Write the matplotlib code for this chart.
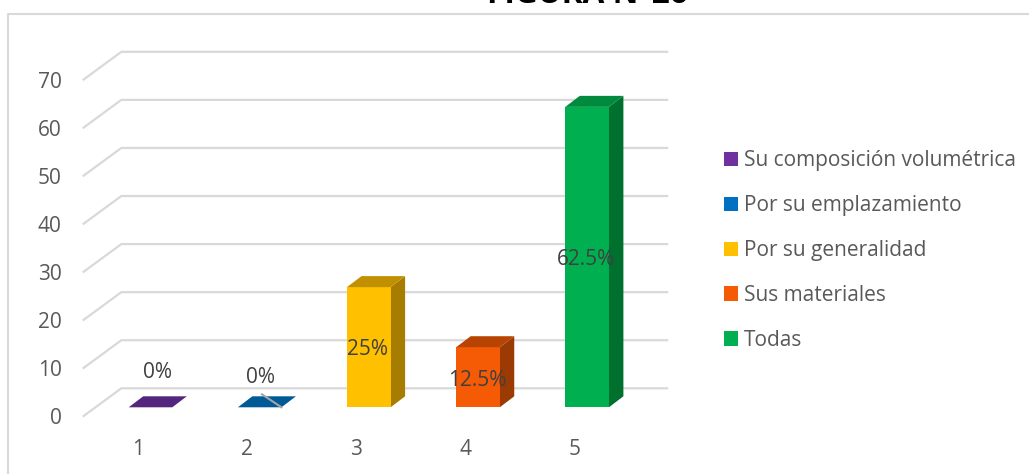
import matplotlib
matplotlib.use("Agg")
import matplotlib.pyplot as plt
from matplotlib.patches import Polygon, Rectangle

FONT = "Open Sans"
plt.rcParams["font.family"] = FONT

categories = [1, 2, 3, 4, 5]
values = [0, 0, 25, 12.5, 62.5]
value_labels = ["0%", "0%", "25%", "12.5%", "62.5%"]
series_names = ["Su composición volumétrica", "Por su emplazamiento",
                "Por su generalidad", "Sus materiales", "Todas"]
y_ticks = [0, 10, 20, 30, 40, 50, 60, 70]
title = "FIGURA N°26"

face_colors = ["#54267E", "#005A96", "#FFC000", "#F55A05", "#00B050"]
legend_colors = ["#7030A0", "#0070C0", "#FFC000", "#F55A05", "#00B050"]
top_colors = ["#54267E", "#005A96", "#C09000", "#B84403", "#008A3E"]
side_colors = ["#54267E", "#005A96", "#A67D00", "#9B3A02", "#00702F"]
label_offsets_px = [(7.5, 35), (1.2, 30), (-1, 57.5), (-0.5, 27), (-1, 148)]

W, H = 1029, 474
PX_CAT = 109.15     # pixels per category
PX_VAL = 4.807      # pixels per value unit
X0, Y0 = 150.5, 407.3  # pixel of category 1 / value 0

fig = plt.figure(figsize=(W / 100, H / 100), dpi=100)
ax = fig.add_axes([0, 0, 1, 1])
ax.set_xlim(1 - X0 / PX_CAT, 1 + (W - X0) / PX_CAT)
ax.set_ylim((Y0 - H) / PX_VAL, Y0 / PX_VAL)
ax.axis("off")

GRID = "#D9D9D9"
TEXT = "#595959"
dx, dy = 14.5 / PX_CAT, 11 / PX_VAL       # bar depth
bar_half = 21.8 / PX_CAT

# chart frame: only its top and left sides show in the crop
ax.plot([8 / W, 8 / W, 1], [0, 1 - 14 / H, 1 - 14 / H], transform=ax.transAxes,
        color=GRID, lw=1.5, zorder=0, clip_on=False)

# walls / gridlines
front_x, back_x, right_x = 0.387, 0.733, 5.733
front_off, back_off = -8.7 / PX_VAL, 19.0 / PX_VAL
for v in y_ticks:
    ax.plot([front_x, back_x, right_x], [v + front_off, v + back_off, v + back_off],
            color=GRID, lw=1.6, zorder=1, solid_joinstyle="miter")
    ax.annotate(str(v), (front_x, v + front_off), xytext=(-22, -2.5), textcoords="offset pixels",
                ha="right", va="center", fontsize=15, color=TEXT)

for c in categories:
    ax.annotate(str(c), (c, 0), xytext=(-12.5, -42), textcoords="offset pixels",
                ha="center", va="center", fontsize=15, color=TEXT)

# bars
for c, v, fc, tc, sc in zip(categories, values, face_colors, top_colors, side_colors):
    l, r = c - bar_half, c + bar_half
    if v > 0:
        ax.add_patch(Polygon([(r, 0), (r + dx, dy), (r + dx, v + dy), (r, v)], fc=sc, ec="none", zorder=3))
        ax.add_patch(Rectangle((l, 0), r - l, v, fc=fc, ec="none", zorder=3))
    ax.add_patch(Polygon([(l, v), (r, v), (r + dx, v + dy), (l + dx, v + dy)], fc=tc, ec="none", zorder=3))

# leader line of bar 2
ax.plot([2 + bar_half - 19.5 / PX_CAT, 2 + bar_half], [13 / PX_VAL, 0], color="#A6A6A6", lw=1.5, zorder=4)

# value labels
for c, v, t, off in zip(categories, values, value_labels, label_offsets_px):
    ax.annotate(t, (c, 0), xytext=off, textcoords="offset pixels",
                ha="center", va="center", fontsize=15, color="#404040", zorder=5)

# legend
handles = [Rectangle((0, 0), 1, 1, fc=col, ec="none") for col in legend_colors]
leg = ax.legend(handles, series_names, loc="upper left", bbox_to_anchor=(724 / W, 1 - 150 / H),
                bbox_transform=ax.transAxes, frameon=False, fontsize=15, labelcolor=TEXT,
                handlelength=0.67, handleheight=0.67, handletextpad=0.3, labelspacing=1.15,
                borderpad=0, borderaxespad=0)

# title, partly cut by the top edge as in the source
ax.text(587.5 / W, 1 - 3 / H, title, transform=ax.transAxes, ha="center", va="baseline",
        fontsize=22.8, fontweight="bold", color="black", clip_on=False)

fig.savefig("out.png", dpi=100)
